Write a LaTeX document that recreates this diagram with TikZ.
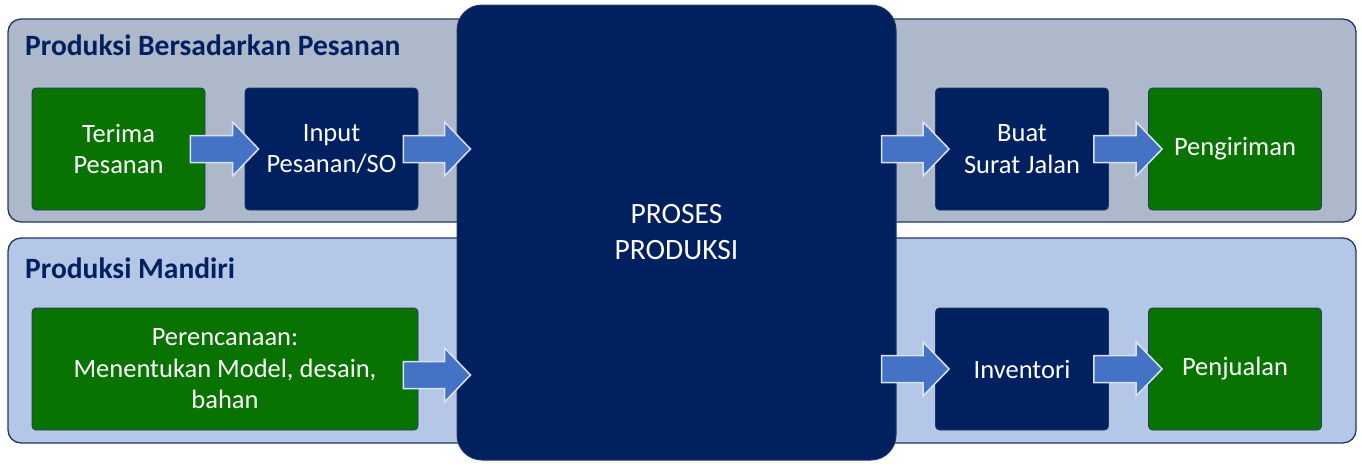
\documentclass[tikz,border=0pt]{standalone}
\usepackage{fontspec}
\setmainfont{Carlito}
\usetikzlibrary{calc}

\definecolor{navy}{RGB}{0,32,96}
\definecolor{hijau}{RGB}{8,115,0}
\definecolor{bandatas}{RGB}{173,185,202}
\definecolor{bandbawah}{RGB}{180,199,231}
\definecolor{garis}{RGB}{31,56,100}
\definecolor{panah}{RGB}{68,114,196}
\definecolor{panahtepi}{RGB}{218,227,243}

\tikzset{
  band/.style={draw=garis, line width=1.3pt, rounded corners=13pt},
  kotak/.style={draw=garis, line width=0.8pt, rounded corners=4pt, text=white, align=center,
    minimum width=173pt, minimum height=122pt, inner sep=0pt,
    font=\fontsize{26.5}{31.5}\selectfont},
  kotakhijau/.style={kotak, fill=hijau},
  kotaknavy/.style={kotak, fill=navy},
  judul/.style={anchor=base west, text=navy, inner sep=0pt, font=\fontsize{29.5}{32}\selectfont\bfseries},
  blokpanah/.style={fill=panah, draw=panahtepi, line width=1.5pt, line join=miter}
}

% #1 geser vertikal, #2 dari, #3 ke, #4 node untuk tinggi panah
\newcommand{\blokpanah}[4][0pt]{%
  \draw[blokpanah] let \p1=(#2.east), \p2=(#3.west), \p3=(#4.center) in
    (\x1-15pt,\y3+#1+13.5pt) -- (\x2-12pt,\y3+#1+13.5pt) -- (\x2-12pt,\y3+#1+27pt)
    -- (\x2+14pt,\y3+#1) -- (\x2-12pt,\y3+#1-27pt) -- (\x2-12pt,\y3+#1-13.5pt)
    -- (\x1-15pt,\y3+#1-13.5pt) -- cycle;
}

\begin{document}
\begin{tikzpicture}[x=1pt,y=-1pt]
\useasboundingbox (0,0) rectangle (1362,467);

\draw[band, fill=bandatas] (8,19) rectangle (1356,222);
\draw[band, fill=bandbawah] (8,238) rectangle (1356,443);

\node[judul] (judul1) at (25,55) {Produksi Bersadarkan Pesanan};
\node[judul] (judul2) at (25,278) {Produksi Mandiri};

\node[kotakhijau] (terima) at (118.5,149) {Terima\\Pesanan};
\node[kotaknavy] (input) at (331.5,149) {Input\\Pesanan/SO};
\node[kotaknavy] (buat) at (1022,149) {Buat\\Surat Jalan};
\node[kotakhijau] (kirim) at (1235,149) {Pengiriman};

\node[kotakhijau, minimum width=386pt] (rencana) at (225,369) {Perencanaan:\\Menentukan Model, desain,\\bahan};
\node[kotaknavy] (inventori) at (1022,369) {Inventori};
\node[kotakhijau] (jual) at (1235,369) {Penjualan};

\node[draw=garis, line width=1pt, fill=navy, rounded corners=25pt, minimum width=439pt, minimum height=455pt,
  text=white, align=center, font=\fontsize{29.5}{36}\selectfont] (proses) at (676.5,232.5) {PROSES\\PRODUKSI};

\blokpanah{terima}{input}{terima}
\blokpanah{input}{proses}{input}
\blokpanah{proses}{buat}{buat}
\blokpanah{buat}{kirim}{buat}
\blokpanah[-6pt]{rencana}{proses}{rencana}
\blokpanah{proses}{inventori}{inventori}
\blokpanah{inventori}{jual}{inventori}
\end{tikzpicture}
\end{document}
